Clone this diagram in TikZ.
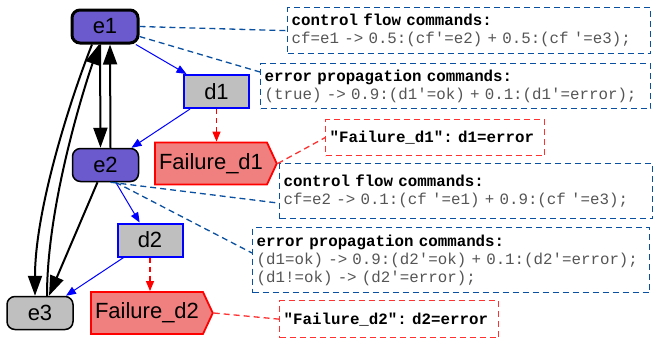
\documentclass[tikz,border=0pt]{standalone}
\usepackage{fontspec}
\setmainfont{Liberation Sans}
\setmonofont{Liberation Mono}
\usetikzlibrary{arrows.meta,shapes.symbols}

\definecolor{evtblue}{RGB}{106,90,205}
\definecolor{failred}{RGB}{240,128,128}
\definecolor{notered}{RGB}{255,50,50}
\definecolor{noteblue}{RGB}{10,80,160}
\definecolor{codegray}{RGB}{85,85,85}

% monospaced text with full-width, rigid spaces
\newcommand{\fixspace}{\fontdimen2\font=0.6em\fontdimen3\font=0pt\fontdimen4\font=0pt\fontdimen7\font=0pt\relax}
\newcommand{\codefont}{\ttfamily\fontsize{15.8}{18}\selectfont\frenchspacing\fixspace}

\tikzset{
	evt/.style={rectangle,rounded corners=8pt,draw=black,line width=1.5pt,fill=evtblue,minimum width=66pt,minimum height=33pt,inner sep=0pt,font=\fontsize{22}{24}\selectfont},
	dnode/.style={rectangle,draw=blue,line width=2pt,fill=black!25,minimum width=65pt,minimum height=33pt,inner sep=0pt,font=\fontsize{22}{24}\selectfont},
	fail/.style={signal,signal to=east,signal pointer angle=130,draw=red,line width=1.8pt,fill=failred,minimum height=42pt,inner xsep=4pt,font=\fontsize{22}{24}\selectfont},
	cmdbox/.style 2 args={draw=noteblue,dash pattern=on 6pt off 4pt,line width=1.3pt,anchor=north west,align=left,inner sep=4pt,text width=#1,minimum height=#2,font=\codefont},
	notebox/.style 2 args={draw=notered,dash pattern=on 6pt off 4pt,line width=1.3pt,anchor=north west,align=left,inner sep=4pt,text width=#1,minimum height=#2,font=\codefont\bfseries\fixspace},
	bigarr/.style={-{Triangle[length=20pt,width=14pt]},line width=2pt},
	thinarr/.style={-{Triangle[length=10pt,width=8pt]},draw=blue,line width=1pt},
	failarr/.style={-{Triangle[length=10pt,width=8pt]},draw=red,dash pattern=on 5pt off 4pt,line width=1.2pt},
	cmdlink/.style={draw=noteblue,dash pattern=on 6pt off 4pt,line width=1.3pt},
	notelink/.style={draw=notered,dash pattern=on 6pt off 4pt,line width=1.3pt}
}

% one unbreakable line of a command box
\newcommand{\cmdhead}[1]{\mbox{\bfseries\fixspace #1}}
\newcommand{\cmdline}[1]{\mbox{\color{codegray}#1}}

\begin{document}
\begin{tikzpicture}[x=1pt,y=-1pt]
	\useasboundingbox (0,0) rectangle (653,343);

	% states and dependencies
	\node [evt,line width=3pt] (e1) at (105,26.5) {e1};
	\node [evt] (e2) at (105.5,165) {e2};
	\node [evt,fill=black!25] (e3) at (40,313) {e3};
	\node [dnode] (d1) at (216.5,91.5) {d1};
	\node [dnode] (d2) at (150,240) {d2};
	\node [fail] (fail1) at (211,163.5) {Failure\_d1};
	\node [fail] (fail2) at (147,313) {Failure\_d2};

	% command boxes
	\node [cmdbox={355pt}{46pt}] (cf1) at (287,7) {\cmdhead{control flow commands:}\\\cmdline{cf=e1 -> 0.5:(cf'=e2) + 0.5:(cf '=e3);}};
	\node [cmdbox={382pt}{45pt}] (ep1) at (260,63) {\cmdhead{error propagation commands:}\\\cmdline{(true) -> 0.9:(d1'=ok) + 0.1:(d1'=error);}};
	\node [notebox={211pt}{36pt}] (note1) at (325,119) {\mbox{"Failure\_d1": d1=error}};
	\node [cmdbox={365pt}{55pt}] (cf2) at (279,163) {\cmdhead{control flow commands:}\\\cmdline{cf=e2 -> 0.1:(cf '=e1) + 0.9:(cf '=e3);}};
	\node [cmdbox={389pt}{65pt}] (ep2) at (252,227) {\cmdhead{error propagation commands:}\\\cmdline{(d1=ok) -> 0.9:(d2'=ok) + 0.1:(d2'=error);}\\\cmdline{(d1!=ok) -> (d2'=error);}};
	\node [notebox={211pt}{37pt}] (note2) at (279,300) {\mbox{"Failure\_d2": d2=error}};

	% control flow
	\draw [bigarr] ([xshift=-5pt]e1.south) -- ([xshift=-5pt]e2.north);
	\draw [bigarr] ([xshift=5pt]e2.north) -- ([xshift=5pt]e1.south);
	\draw [bigarr] ([xshift=-13pt]e1.south) .. controls (70,100) and (35,210) .. ([xshift=-5pt]e3.north);
	\draw [bigarr] ([xshift=7pt]e3.north) .. controls (47,210) and (80,100) .. ([xshift=-6pt]e1.south);
	\draw [bigarr] ([xshift=-8pt]e2.south) -- ([xshift=9pt]e3.north);

	% data flow
	\draw [thinarr] (e1) -- (d1);
	\draw [thinarr] (d1) -- (e2);
	\draw [thinarr] (e2) -- (d2);
	\draw [thinarr] (d2) -- (e3);
	\draw [failarr] (d1.south) -- (d1.south |- fail1.north);
	\draw [failarr] (d2.south) -- (d2.south |- fail2.north);

	% annotations
	\draw [cmdlink] (e1.east) -- (cf1.west);
	\draw [cmdlink] ([yshift=-10pt]e1.east) -- ([yshift=-9pt]ep1.north west);
	\draw [cmdlink] ([xshift=5pt]e2.south) -- ([yshift=-12pt]cf2.west);
	\draw [cmdlink] ([xshift=10pt]e2.south) -- ([yshift=-26pt]ep2.north west);
	\draw [notelink] (fail1.east) -- (note1.west);
	\draw [notelink] (fail2.east) -- (note2.west);
\end{tikzpicture}
\end{document}
